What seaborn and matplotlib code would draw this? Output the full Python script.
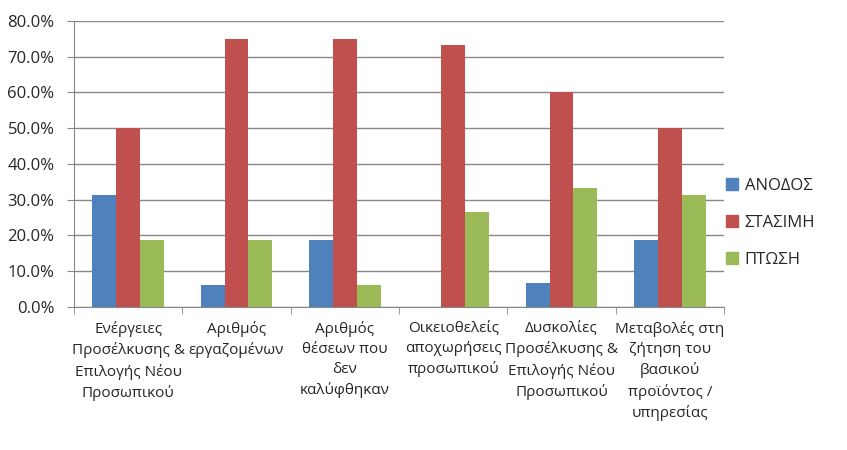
import matplotlib
matplotlib.use("Agg")
import matplotlib.pyplot as plt
import seaborn as sns
import pandas as pd
from matplotlib.ticker import FuncFormatter, MultipleLocator, FixedLocator

categories = [
    "Ενέργειες\nΠροσέλκυσης &\nΕπιλογής Νέου\nΠροσωπικού",
    "Αριθμός\nεργαζομένων",
    "Αριθμός\nθέσεων που\nδεν\nκαλύφθηκαν",
    "Οικειοθελείς\nαποχωρήσεις\nπροσωπικού",
    "Δυσκολίες\nΠροσέλκυσης &\nΕπιλογής Νέου\nΠροσωπικού",
    "Μεταβολές στη\nζήτηση του\nβασικού\nπροϊόντος /\nυπηρεσίας",
]
series = ["ΑΝΟΔΟΣ", "ΣΤΑΣΙΜΗ", "ΠΤΩΣΗ"]
anodos = [31.25, 6.25, 18.75, 0.0, 6.67, 18.75]
stasimi = [50.0, 75.0, 75.0, 73.33, 60.0, 50.0]
ptosi = [18.75, 18.75, 6.25, 26.67, 33.33, 31.25]
colors = ["#4F81BD", "#C0504D", "#9BBB59"]

df = pd.DataFrame({
    "cat": categories * 3,
    "series": [series[0]] * 6 + [series[1]] * 6 + [series[2]] * 6,
    "value": anodos + stasimi + ptosi,
})

sns.set_style("white")
plt.rcParams["font.family"] = ["Open Sans", "DejaVu Sans"]

fig = plt.figure(figsize=(8.47, 4.5), dpi=100)
ax = fig.add_axes([0.0874, 0.3178, 0.7674, 0.6356])

sns.barplot(data=df, x="cat", y="value", hue="series", palette=colors,
            width=0.66, saturation=1, linewidth=0, ax=ax, legend=False)

ax.set_ylim(0, 80)
ax.set_xlim(-0.5, 5.5)
ax.yaxis.set_major_locator(MultipleLocator(10))
ax.yaxis.set_major_formatter(FuncFormatter(lambda v, p: f"{v:.1f}%"))
ax.yaxis.grid(True, color="#888888", linewidth=1)
ax.set_axisbelow(True)
ax.set_xlabel("")
ax.set_ylabel("")

for s in ["top", "right"]:
    ax.spines[s].set_visible(False)
for s in ["left", "bottom"]:
    ax.spines[s].set_color("#888888")

ax.tick_params(axis="y", labelsize=12, length=5, color="#888888", left=True, pad=9)
ax.tick_params(axis="x", which="major", length=0, labelsize=11, pad=10)
ax.xaxis.set_minor_locator(FixedLocator([i - 0.5 for i in range(7)]))
ax.tick_params(axis="x", which="minor", length=5, color="#888888", bottom=True)
for lbl in ax.get_xticklabels():
    lbl.set_linespacing(1.45)

handles = [plt.Rectangle((0, 0), 1, 1, color=c) for c in colors]
fig.legend(handles, series, loc="center left", bbox_to_anchor=(0.839, 0.505),
           frameon=False, fontsize=12, handlelength=0.75, handleheight=0.75,
           handletextpad=0.4, labelspacing=1.25)

fig.savefig("out.png", dpi=100)
